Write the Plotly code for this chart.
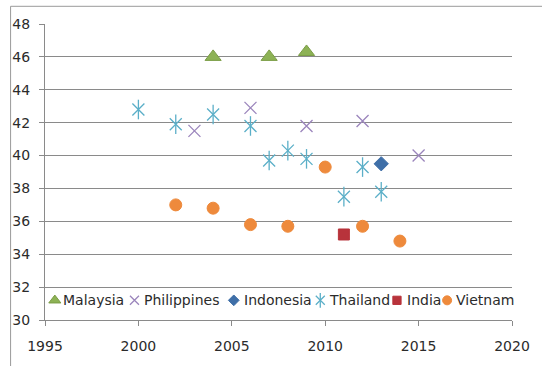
import plotly.graph_objects as go

# Survey values by country (year, value)
malaysia_years = [2004, 2007, 2009]
malaysia_vals = [46.0, 46.0, 46.3]

philippines_years = [2003, 2006, 2009, 2012, 2015]
philippines_vals = [41.5, 42.9, 41.8, 42.1, 40.0]

indonesia_years = [2013]
indonesia_vals = [39.5]

thailand_years = [2000, 2002, 2004, 2006, 2007, 2008, 2009, 2011, 2012, 2013]
thailand_vals = [42.8, 41.9, 42.5, 41.8, 39.7, 40.3, 39.8, 37.5, 39.3, 37.8]

india_years = [2011]
india_vals = [35.2]

vietnam_years = [2002, 2004, 2006, 2008, 2010, 2012, 2014]
vietnam_vals = [37.0, 36.8, 35.8, 35.7, 39.3, 35.7, 34.8]

x_ticks = [1995, 2000, 2005, 2010, 2015, 2020]
y_ticks = [30, 32, 34, 36, 38, 40, 42, 44, 46, 48]

FONT = "DejaVu Sans"
GRID = "#8a8a8a"
TEXT = "#2b2b2b"

# Marker styles per series: list of (symbol, size, fill, line colour, line width)
styles = {
    "Malaysia": [("triangle-up", 14, "#8DB255", "#7A9C45", 1)],
    "Philippines": [("x-thin-open", 12, "#9B85BC", "#9B85BC", 1.3)],
    "Indonesia": [("diamond", 11, "#3F6FA8", "#3F6FA8", 1)],
    "Thailand": [("x-thin-open", 12, "#5BAFC8", "#5BAFC8", 1.3),
                 ("line-ns-open", 14, "#5BAFC8", "#5BAFC8", 1.3)],
    "India": [("square", 11, "#B8333B", "#B8333B", 1)],
    "Vietnam": [("circle", 12, "#EE8A3C", "#EE8A3C", 1)],
}

series = [
    ("Malaysia", malaysia_years, malaysia_vals),
    ("Philippines", philippines_years, philippines_vals),
    ("Indonesia", indonesia_years, indonesia_vals),
    ("Thailand", thailand_years, thailand_vals),
    ("India", india_years, india_vals),
    ("Vietnam", vietnam_years, vietnam_vals),
]

fig = go.Figure()
for name, xs, ys in series:
    for sym, size, fill, lc, lw in styles[name]:
        fig.add_trace(go.Scatter(
            x=xs, y=ys, mode="markers", name=name, showlegend=False,
            marker=dict(symbol=sym, size=size, color=fill,
                        line=dict(color=lc, width=lw)),
        ))

# Compact legend row along the bottom of the plot area (pixel offsets inside the plot)
legend_symbol_x = [10, 91, 192, 280, 358, 409]
legend_text_x = [16, 99, 200, 287, 366, 416]
legend_y = 20
legend_scale = 0.75
annotations = []
for (name, _, _), sx, tx in zip(series, legend_symbol_x, legend_text_x):
    for sym, size, fill, lc, lw in styles[name]:
        fig.add_trace(go.Scatter(
            x=[sx], y=[legend_y], xaxis="x2", yaxis="y2", mode="markers",
            showlegend=False, hoverinfo="skip",
            marker=dict(symbol=sym, size=size * legend_scale, color=fill,
                        line=dict(color=lc, width=lw)),
        ))
    annotations.append(dict(
        x=tx, y=legend_y, xref="x2", yref="y2", text=name, showarrow=False,
        xanchor="left", yanchor="middle",
        font=dict(family=FONT, size=14, color=TEXT),
    ))

axis_common = dict(
    showline=True, linecolor=GRID, linewidth=1,
    ticks="outside", ticklen=5, tickcolor=GRID, tickwidth=1,
    tickfont=dict(family=FONT, size=14, color=TEXT),
    zeroline=False,
)

fig.update_layout(
    width=542, height=366,
    margin=dict(l=45, r=22, t=24, b=41),
    paper_bgcolor="white", plot_bgcolor="white",
    showlegend=False,
    xaxis=dict(range=[1995, 2020], tickvals=x_ticks, showgrid=False,
               ticklabelstandoff=8, **axis_common),
    yaxis=dict(range=[30, 48], tickvals=y_ticks, showgrid=True,
               gridcolor=GRID, gridwidth=1, ticklabelstandoff=6, **axis_common),
    xaxis2=dict(overlaying="x", range=[0, 475], visible=False),
    yaxis2=dict(overlaying="y", range=[0, 301], visible=False),
    annotations=annotations,
    shapes=[dict(type="rect", xref="paper", yref="paper",
                 x0=-35 / 475, x1=1.3, y0=-0.3, y1=1 + 18 / 301,
                 line=dict(color="#9a9a9a", width=1), layer="below")],
)

fig.write_html("out.html")
